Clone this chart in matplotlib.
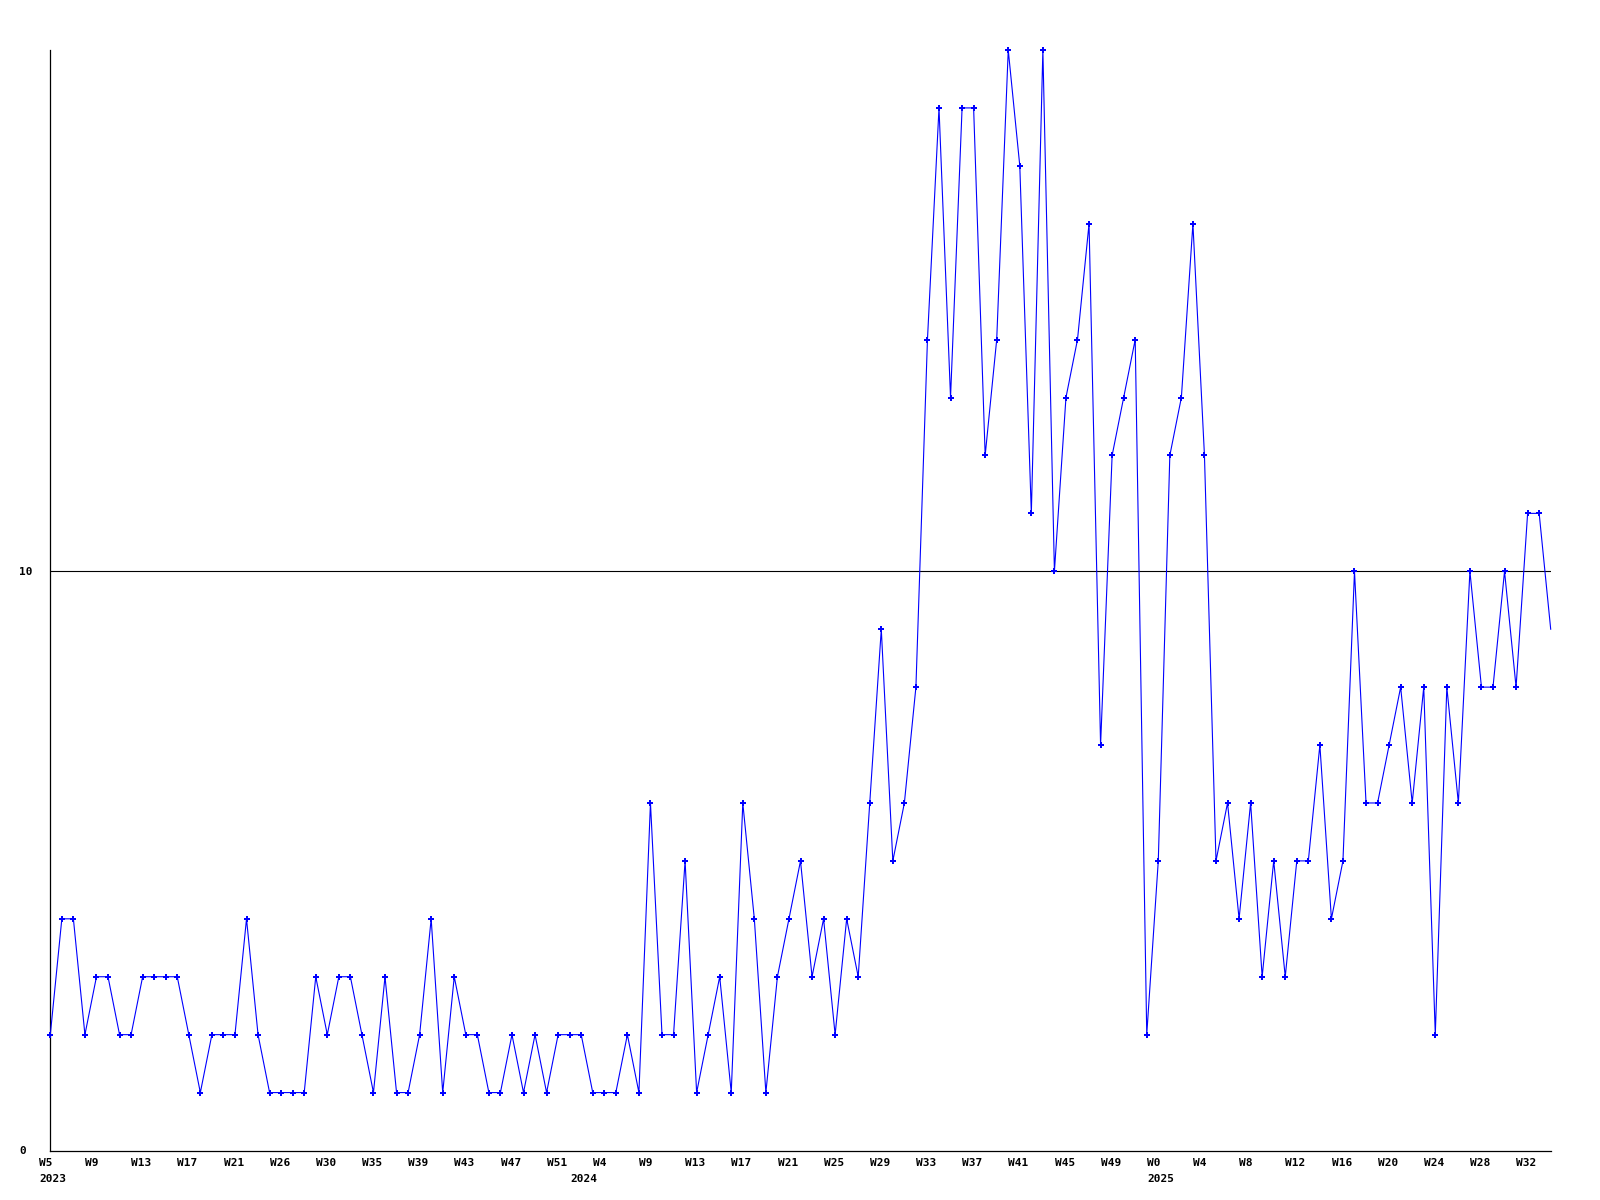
import matplotlib
matplotlib.use("Agg")
import matplotlib.pyplot as plt
import matplotlib.transforms as mtransforms

# ---- data -------------------------------------------------------------
values = [2, 4, 4, 2, 3, 3, 2, 2, 3, 3, 3, 3, 2, 1, 2, 2, 2, 4, 2, 1,
          1, 1, 1, 3, 2, 3, 3, 2, 1, 3, 1, 1, 2, 4, 1, 3, 2, 2, 1, 1,
          2, 1, 2, 1, 2, 2, 2, 1, 1, 1, 2, 1, 6, 2, 2, 5, 1, 2, 3, 1,
          6, 4, 1, 3, 4, 5, 3, 4, 2, 4, 3, 6, 9, 5, 6, 8, 14, 18, 13, 18,
          18, 12, 14, 19, 17, 11, 19, 10, 13, 14, 16, 7, 12, 13, 14, 2, 5, 12, 13, 16,
          12, 5, 6, 4, 6, 3, 5, 3, 5, 5, 7, 4, 5, 10, 6, 6, 7, 8, 6, 8,
          2, 8, 6, 10, 8, 8, 10, 8, 11, 11, 9]

week_labels = ["W5", "W9", "W13", "W17", "W21", "W26", "W30", "W35", "W39",
               "W43", "W47", "W51", "W4", "W9", "W13", "W17", "W21", "W25",
               "W29", "W33", "W37", "W41", "W45", "W49", "W0", "W4", "W8",
               "W12", "W16", "W20", "W24", "W28", "W32"]
week_label_step = 4

year_labels = ["2023", "2024", "2025"]
year_start_index = [0, 46, 96]

y_ticks = [0, 10]
y_max = 19
reference_level = 10

# ---- figure -----------------------------------------------------------
W, H = 1600, 1200
fig = plt.figure(figsize=(16, 12), dpi=100)
left, right, top, bottom = 50.3, 1550.7, 50.0, 1150.5
ax = fig.add_axes([left / W, 1 - bottom / H, (right - left) / W, (bottom - top) / H])

x = list(range(len(values)))
ax.axhline(reference_level, color="black", lw=0.8, zorder=1)
ax.plot(x, values, color="#0000FF", lw=0.8, zorder=3, clip_on=False)
ax.plot(x[:-1], values[:-1], linestyle="none", marker="P", markersize=4.5,
        color="#0000FF", markeredgewidth=0, zorder=4, clip_on=False)

ax.set_xlim(0, len(values) - 1)
ax.set_ylim(0, y_max)

for s in ("top", "right"):
    ax.spines[s].set_visible(False)
for s in ("left", "bottom"):
    ax.spines[s].set_color("black")
    ax.spines[s].set_linewidth(0.9)

font = dict(family="DejaVu Sans Mono", weight="bold", size=8)

# x ticks: week labels (major), year labels (minor)
ax.xaxis.remove_overlapping_locs = False
ax.set_xticks([i * week_label_step for i in range(len(week_labels))])
ax.set_xticklabels(week_labels, fontdict=font)
ax.set_xticks(year_start_index, minor=True)
ax.set_xticklabels(year_labels, minor=True, fontdict=font)
ax.tick_params(axis="x", which="major", length=0, pad=5.5)
ax.tick_params(axis="x", which="minor", length=0, pad=17)

offset = mtransforms.ScaledTranslation(-11.3 / 100, 0, fig.dpi_scale_trans)
for lbl in ax.get_xticklabels(which="both"):
    lbl.set_ha("left")
    lbl.set_transform(lbl.get_transform() + offset)

# y ticks
ax.set_yticks(y_ticks)
ax.set_yticklabels([str(v) for v in y_ticks], fontdict=font)
ax.tick_params(axis="y", length=0, pad=22.5)
for lbl in ax.get_yticklabels():
    lbl.set_ha("left")

fig.savefig("out.png", dpi=100, facecolor="white")
